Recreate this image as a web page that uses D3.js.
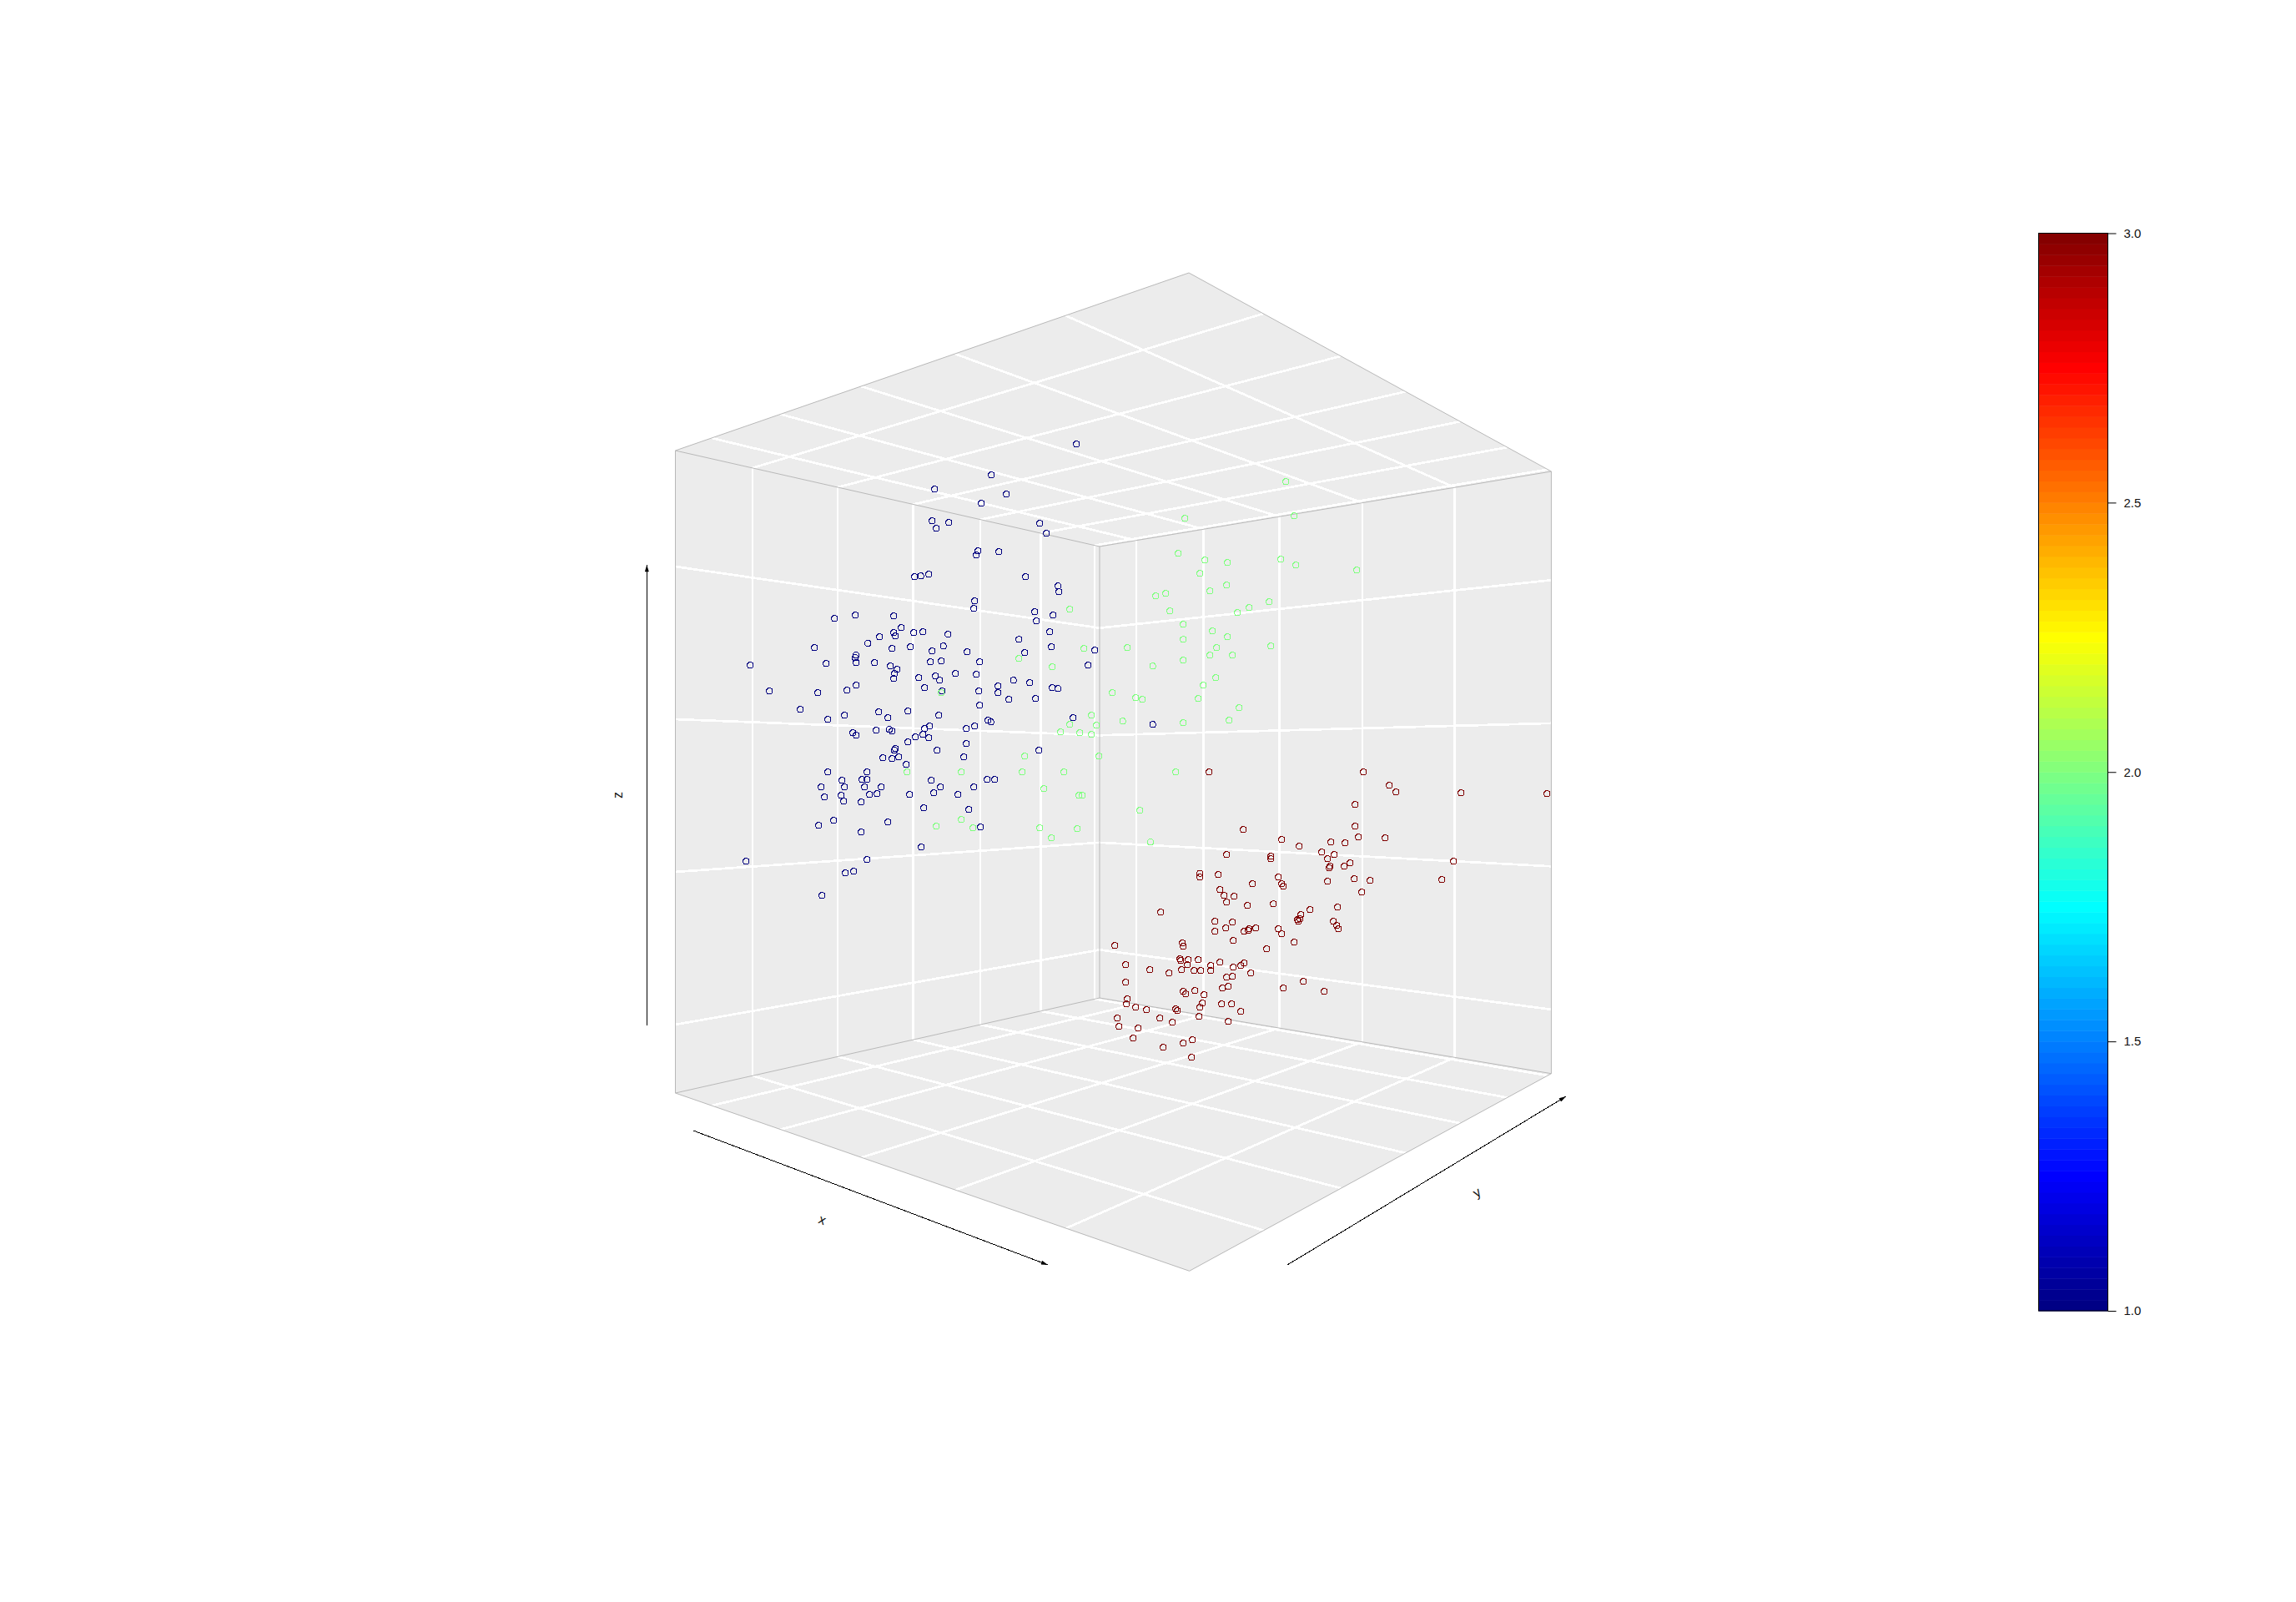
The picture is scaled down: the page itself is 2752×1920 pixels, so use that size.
<!DOCTYPE html>
<meta charset="utf-8">
<head>
    <title>3D scatter</title>
    <script src="https://d3js.org/d3.v7.min.js"></script>
</head>

<style>
    body { margin: 0; background: white; }
    svg { display: block; }
    text { font-family: "Liberation Sans", sans-serif; fill: #111; }
    .wall { fill: #ececec; stroke: none; }
    .grid { fill: none; stroke: white; stroke-width: 2.7; shape-rendering: crispEdges; }
    .edge { fill: none; stroke: #b8b8b8; stroke-width: 1; }
    .pt { fill: none; stroke-width: 1; shape-rendering: crispEdges; }
</style>

<svg></svg>

<script>
    // Values
    var classValues = [1, 2, 3];
    var xTicks = [0.1056, 0.2856, 0.4682, 0.65, 0.8309];
    var yTicks = [0.135, 0.3034, 0.4729, 0.6423, 0.8133, 0.9836];
    var zTicks = [0.1065, 0.3442, 0.5818, 0.8195];
    var barTicks = [1, 1.5, 2, 2.5, 3];
    var barLevels = 100;

    // Jet colormap stops
    var jetStops = [0, 0.125, 0.375, 0.625, 0.875, 1];
    var jetColors = ["#000080", "#0000ff", "#00ffff", "#ffff00", "#ff0000", "#800000"];

    // Points as seen on screen, in view units (the cube has no readable depth)
    var blue = [[1231,37],[925,148],[721,199],[979,217],[889,250],[712,313],[772,319],[727,340],[1099,322],[1123,358],
        [877,421],[871,436],[952,424],[649,514],[671,511],[700,505],[1048,514],[1165,547],[1168,568],[865,601],
        [862,628],[1081,640],[1147,652],[1087,673],[361,664],[436,652],[574,655],[601,697],[574,715],[580,727],
        [646,715],[679,712],[769,721],[523,730],[1135,712],[1024,739],[481,753],[289,769],[568,772],[634,766],
        [712,781],[752,763],[838,784],[1045,787],[1141,766],[1297,778],[58,832],[331,826],[438,796],[435,805],
        [439,823],[505,823],[562,835],[586,847],[577,862],[574,880],[706,820],[745,817],[883,820],[796,862],
        [871,865],[724,871],[739,886],[664,877],[685,913],[748,925],[1273,832],[949,907],[1004,886],[1063,895],
        [1144,913],[1165,916],[949,931],[880,925],[988,955],[1084,952],[127,925],[301,931],[406,922],[439,904],
        [238,991],[883,976],[520,1000],[625,997],[553,1021],[397,1012],[337,1027],[736,1012],[1219,1021],[1505,1045],
        [913,1030],[923,1036],[865,1051],[835,1060],[703,1051],[685,1060],[511,1066],[558,1063],[568,1069],[427,1075],
        [439,1084],[652,1090],[679,1081],[700,1093],[625,1108],[835,1114],[580,1132],[576,1138],[730,1138],[1096,1138],
        [535,1165],[568,1168],[592,1162],[826,1162],[619,1189],[337,1216],[478,1216],[388,1246],[460,1243],[478,1243],
        [709,1246],[910,1243],[937,1243],[313,1270],[397,1270],[469,1270],[529,1270],[742,1270],[862,1270],[385,1300],
        [325,1306],[487,1297],[514,1294],[631,1297],[718,1291],[805,1297],[394,1321],[457,1324],[682,1345],[844,1351],
        [358,1390],[304,1408],[553,1396],[886,1414],[457,1432],[673,1486],[43,1537],[478,1531],[430,1573],[400,1579],
        [316,1660]];

    var green = [[1207,631],[1258,772],[1414,769],[1024,808],[1144,838],[1505,835],[745,931],[1360,931],[1444,949],[1468,955],
        [1285,1012],[1207,1045],[1303,1048],[1397,1033],[1174,1072],[1243,1075],[1285,1081],[1045,1159],[1312,1159],[622,1216],
        [817,1216],[1036,1216],[1186,1216],[1114,1276],[1240,1300],[1252,1300],[1459,1354],[817,1387],[727,1411],[859,1417],
        [1099,1417],[1234,1420],[1141,1453],[1497,1468],[1984,172],[1621,304],[2014,295],[1597,430],[1693,454],[1774,463],
        [1966,451],[2020,472],[2239,490],[1675,502],[1771,544],[1711,565],[1552,574],[1516,583],[1567,637],[1924,604],
        [1852,625],[1810,643],[1615,685],[1720,709],[1774,730],[1615,739],[1930,763],[1735,769],[1711,796],[1792,796],
        [1615,814],[1732,877],[1687,904],[1669,952],[1816,985],[1615,1039],[1780,1030],[1588,1216]];

    var red = [[1369,1840],[1408,1909],[1495,1927],[1408,1972],[1414,2032],[1411,2050],[1444,2062],[1483,2071],[1378,2101],[1384,2131],
        [1453,2137],[1435,2173],[1708,1216],[2263,1216],[2356,1264],[2380,1288],[2614,1291],[2923,1294],[2233,1333],[1831,1423],
        [2233,1411],[2245,1450],[2341,1453],[1969,1459],[2032,1483],[2146,1468],[2197,1471],[2113,1504],[2158,1513],[1771,1513],
        [1930,1519],[1930,1528],[2134,1528],[2587,1537],[2215,1543],[2194,1555],[2143,1555],[2140,1561],[1675,1580],[1675,1594],
        [1741,1585],[1957,1594],[1969,1618],[1975,1627],[1864,1618],[2230,1600],[2287,1606],[2134,1609],[2545,1603],[2257,1648],
        [1747,1639],[1762,1660],[1798,1663],[1771,1684],[1846,1696],[1939,1690],[2170,1702],[2071,1711],[1534,1720],[2038,1729],
        [2035,1744],[2026,1747],[2029,1753],[1729,1753],[1792,1756],[2155,1753],[2167,1768],[2173,1780],[1768,1777],[1729,1789],
        [1834,1789],[1852,1780],[1849,1786],[1876,1777],[1957,1780],[1969,1798],[2014,1828],[1795,1822],[1915,1852],[1612,1831],
        [1615,1843],[1603,1888],[1606,1894],[1633,1891],[1669,1891],[1630,1909],[1747,1900],[1714,1912],[1834,1903],[1822,1912],
        [1795,1918],[1609,1927],[1654,1930],[1678,1930],[1714,1930],[1564,1939],[1858,1939],[1792,1951],[1771,1954],[2047,1969],
        [1777,1987],[1756,1993],[1975,1993],[1615,2005],[1624,2014],[1657,2002],[2122,2005],[1690,2017],[1684,2047],[1753,2050],
        [1789,2050],[1675,2062],[1588,2068],[1594,2074],[1822,2077],[1672,2095],[1531,2101],[1576,2116],[1777,2113],[1648,2179],
        [1615,2191],[1543,2206],[1645,2242]];

    var svg = d3.select('svg')
        .attr('width', 2752)
        .attr('height', 1920);

    // Cube corners on screen
    var A = [809.5, 1310], B = [1425.6, 1523.3], C = [1859.4, 1286.7], D = [1318, 1196];   // floor
    var E = [809.5, 540], F = [1425, 327], G = [1859.4, 565], H = [1318, 655];             // ceiling

    var unit = d3.scaleLinear().domain([0, 1]).range([0, 1]);
    var jet = d3.scaleLinear().domain(jetStops).range(jetColors);

    // square to quad projective map, p0..p3 at (0,0) (1,0) (1,1) (0,1)
    function faceMap(p0, p1, p2, p3) {
        var dx1 = p1[0] - p2[0], dx2 = p3[0] - p2[0], sx = p0[0] - p1[0] + p2[0] - p3[0];
        var dy1 = p1[1] - p2[1], dy2 = p3[1] - p2[1], sy = p0[1] - p1[1] + p2[1] - p3[1];
        var det = dx1 * dy2 - dx2 * dy1;
        var g = (sx * dy2 - dx2 * sy) / det;
        var h = (dx1 * sy - sx * dy1) / det;
        var a = p1[0] - p0[0] + g * p1[0], b = p3[0] - p0[0] + h * p3[0];
        var d = p1[1] - p0[1] + g * p1[1], e = p3[1] - p0[1] + h * p3[1];
        return function (s, t) {
            var w = g * s + h * t + 1;
            return [(a * s + b * t + p0[0]) / w, (d * s + e * t + p0[1]) / w];
        };
    }

    // each face: corners, and the ticks of its two directions
    var faces = [
        {quad: [A, B, C, D], sTicks: xTicks, tTicks: yTicks},  // floor
        {quad: [E, F, G, H], sTicks: xTicks, tTicks: yTicks},  // ceiling
        {quad: [A, D, H, E], sTicks: yTicks, tTicks: zTicks},  // left wall
        {quad: [D, C, G, H], sTicks: xTicks, tTicks: zTicks}   // right wall
    ];

    var line = d3.line();
    var gFaces = svg.append('g');

    faces.forEach(function (f) {
        gFaces.append('path').attr('class', 'wall').attr('d', line(f.quad) + 'Z');
    });
    faces.forEach(function (f) {
        var map = faceMap.apply(null, f.quad);
        f.sTicks.forEach(function (v) {
            gFaces.append('path').attr('class', 'grid').attr('d', line([map(unit(v), 0), map(unit(v), 1)]));
        });
        f.tTicks.forEach(function (v) {
            gFaces.append('path').attr('class', 'grid').attr('d', line([map(0, unit(v)), map(1, unit(v))]));
        });
    });
    gFaces.selectAll('path.edge').data([
        [A, B], [B, C], [C, D], [D, A], [E, F], [F, G], [G, H], [H, E], [A, E], [C, G], [D, H]
    ]).enter().append('path')
        .attr('class', 'edge')
        .attr('d', function (d) { return line(d); });

    // points
    var viewX = d3.scaleLinear().domain([0, 1500]).range([880, 1380]);
    var viewY = d3.scaleLinear().domain([0, 1500]).range([520, 1020]);
    var barValue = d3.scaleLinear().domain([1, 3]).range([0, 1]);

    [blue, green, red].forEach(function (series, i) {
        svg.append('g').selectAll('circle').data(series).enter()
            .append('circle')
            .attr('class', 'pt')
            .attr('cx', function (d) { return viewX(d[0]); })
            .attr('cy', function (d) { return viewY(d[1]); })
            .attr('r', 3.6)
            .attr('stroke', jet(barValue(classValues[i])));
    });

    // axis arrows
    svg.append('defs').append('marker')
        .attr('id', 'head')
        .attr('viewBox', '0 0 10 6')
        .attr('refX', 10).attr('refY', 3)
        .attr('markerWidth', 10).attr('markerHeight', 5)
        .attr('markerUnits', 'userSpaceOnUse')
        .attr('orient', 'auto')
        .append('path').attr('d', 'M0,0L10,3L0,6Z').attr('fill', '#000');

    var arrows = [
        [[831, 1355], [1256, 1516]],
        [[1543, 1516], [1877, 1314]],
        [[775.3, 1229], [775.3, 677]]
    ];
    svg.append('g').selectAll('path').data(arrows).enter()
        .append('path')
        .attr('d', function (d) { return line(d); })
        .attr('stroke', '#000')
        .attr('stroke-width', 1)
        .attr('fill', 'none')
        .attr('shape-rendering', 'crispEdges')
        .attr('marker-end', 'url(#head)');

    var axisLabels = [
        {text: 'x', x: 985.6, y: 1461.7, angle: 21},
        {text: 'y', x: 1770, y: 1429, angle: -31},
        {text: 'z', x: 740.7, y: 953, angle: -90}
    ];
    svg.append('g').selectAll('text').data(axisLabels).enter()
        .append('text')
        .attr('transform', function (d) { return 'translate(' + d.x + ',' + d.y + ') rotate(' + d.angle + ')'; })
        .attr('text-anchor', 'middle')
        .attr('dominant-baseline', 'central')
        .attr('font-size', 16)
        .text(function (d) { return d.text; });

    // colorbar
    var barX = 2443.5, barW = 83, barTop = 279.5, barBottom = 1571;
    var barY = d3.scaleLinear().domain([1, 3]).range([barBottom, barTop]);
    var gBar = svg.append('g');

    gBar.selectAll('rect').data(d3.range(barLevels)).enter()
        .append('rect')
        .attr('x', barX)
        .attr('width', barW)
        .attr('y', function (i) { return barY(1 + 2 * (i + 1) / barLevels); })
        .attr('height', (barBottom - barTop) / barLevels + 0.5)
        .attr('fill', function (i) { return jet(barValue(1 + 2 * (i + 0.5) / barLevels)); });

    gBar.append('rect')
        .attr('x', barX).attr('y', barTop)
        .attr('width', barW).attr('height', barBottom - barTop)
        .attr('fill', 'none').attr('stroke', '#000').attr('stroke-width', 1);

    var barAxis = d3.axisRight(barY)
        .tickValues(barTicks)
        .tickSize(10)
        .tickPadding(9)
        .tickFormat(d3.format('.1f'));

    gBar.append('g')
        .attr('transform', 'translate(' + (barX + barW) + ',0)')
        .call(barAxis)
        .call(function (g) { g.select('.domain').remove(); })
        .call(function (g) {
            g.selectAll('text').attr('font-size', 15).attr('font-family', '"Liberation Sans", sans-serif').attr('fill', '#111');
        });
</script>
